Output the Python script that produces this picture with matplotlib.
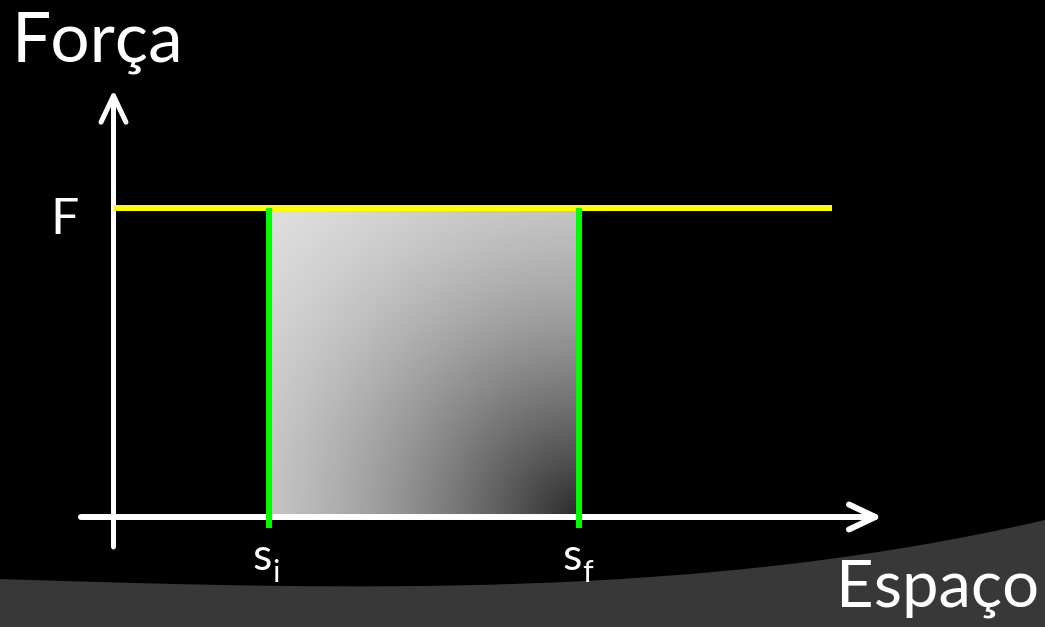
import numpy as np
import matplotlib
matplotlib.use('Agg')
import matplotlib.pyplot as plt
from matplotlib.path import Path
from matplotlib.patches import PathPatch

# ---- data ----
force_value = 1.0                 # F
force_line_s = [0.0, 9.27]        # extent of the constant-force line
s_bounds = [2.0, 6.0]             # s_i, s_f
s_subscripts = ['i', 'f']
axis_x_range = [-0.42, 9.92]      # horizontal axis (Espaço)
axis_y_range = [-0.097, 1.382]    # vertical axis (Força)
green_bottom = -0.036
label_y = 'Força'
label_x = 'Espaço'
label_force = 'F'

W, H = 1045, 627
FONT = ['Lato', 'DejaVu Sans']

fig = plt.figure(figsize=(W / 100, H / 100), dpi=100, facecolor='black')
ax = fig.add_axes([0, 0, 1, 1])
ax.set_facecolor('black')
ax.axis('off')

x0px, xscale = 113.5, 77.5
y0px, yscale = 517, 309
ax.set_xlim(-x0px / xscale, (W - x0px) / xscale)
ax.set_ylim(-(H - y0px) / yscale, y0px / yscale)

def fx(px):
    return px / W

def fy(py):
    return 1 - py / H

# ---- background gray swoosh ----
verts = [(fx(0), fy(579)), (fx(350), fy(590)), (fx(700), fy(600)), (fx(1045), fy(520)),
         (fx(1045), fy(627)), (fx(0), fy(627)), (fx(0), fy(579))]
codes = [Path.MOVETO, Path.CURVE4, Path.CURVE4, Path.CURVE4,
         Path.LINETO, Path.LINETO, Path.CLOSEPOLY]
ax.add_patch(PathPatch(Path(verts, codes), facecolor='#383838', edgecolor='none',
                       transform=ax.transAxes, zorder=0))

# ---- gradient area (work) ----
n = 300
u = np.linspace(0, 1, n)
v = np.linspace(0, 1, n)
U, V = np.meshgrid(u, v)
d = np.sqrt((1 - U) ** 2 + (1 - V) ** 2)
c = np.clip(0.17 + 0.85 * d - 0.25 * d ** 2, 0, 1)
ax.imshow(c, cmap='gray', vmin=0, vmax=1, origin='upper', aspect='auto',
          extent=[s_bounds[0], s_bounds[1], 0, force_value], zorder=1,
          interpolation='bilinear')

# ---- axes arrows ----
lw_axis = 4.3
arrow_kw = dict(arrowstyle='->,head_length=0.95,head_width=0.45', color='white',
                lw=lw_axis, shrinkA=0, shrinkB=0, mutation_scale=20,
                capstyle='round', joinstyle='round')
ax.annotate('', xy=(axis_x_range[1], 0), xytext=(axis_x_range[0], 0),
            arrowprops=arrow_kw, zorder=2)
ax.annotate('', xy=(0, axis_y_range[1]), xytext=(0, axis_y_range[0]),
            arrowprops=dict(arrow_kw, lw=3.6), zorder=2)

# ---- constant force line ----
ax.plot(force_line_s, [force_value, force_value], color='#ffff00', lw=4.3,
        solid_capstyle='butt', zorder=3)

# ---- s_i, s_f verticals ----
for s in s_bounds:
    ax.plot([s, s], [green_bottom, force_value], color='#00ff00', lw=4.3,
            solid_capstyle='butt', zorder=4)

# ---- labels ----
for s, sub in zip(s_bounds, s_subscripts):
    ax.annotate('s', xy=(s, 0), xytext=(-6, -53), textcoords='offset pixels',
                ha='center', va='baseline', color='white', fontsize=32, family=FONT)
    ax.annotate(sub, xy=(s, 0), xytext=(4, -65), textcoords='offset pixels',
                ha='left', va='baseline', color='white', fontsize=22, family=FONT)

ax.annotate(label_force, xy=(0, force_value), xytext=(-63, -26), textcoords='offset pixels',
            ha='left', va='baseline', color='white', fontsize=36, family=FONT)

ax.text(fx(12), fy(61), label_y, transform=ax.transAxes, ha='left', va='baseline',
        color='white', fontsize=50, family=FONT)
ax.text(fx(836), fy(607), label_x, transform=ax.transAxes, ha='left', va='baseline',
        color='white', fontsize=47, family=FONT)

fig.savefig('out.png', dpi=100, facecolor='black')
